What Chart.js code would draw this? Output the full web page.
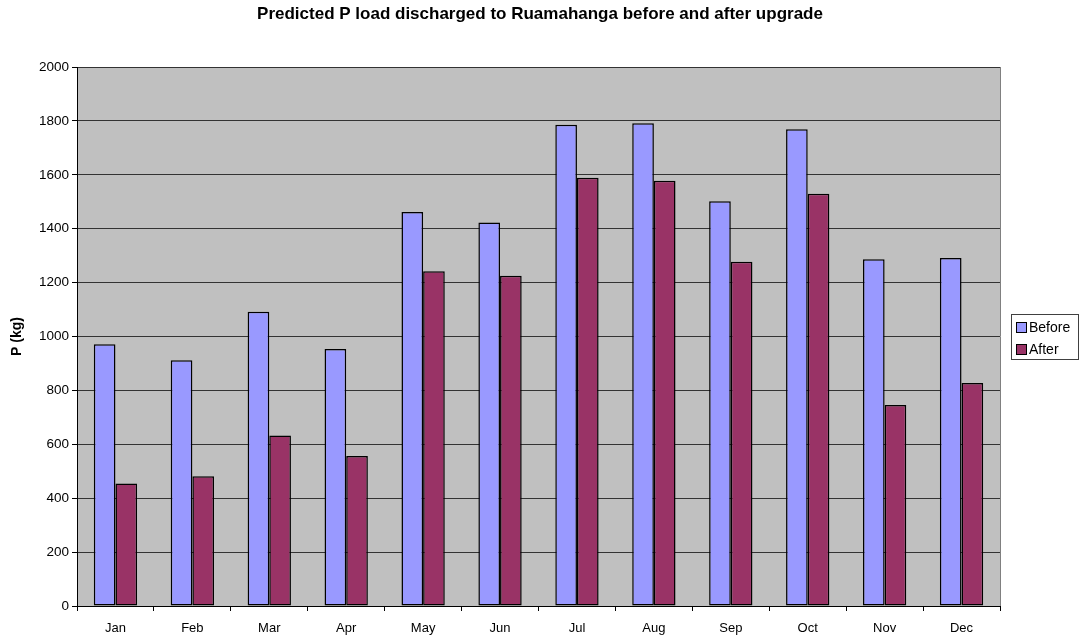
<!DOCTYPE html>
<html>
<head>
<meta charset="utf-8">
<script src="https://cdn.jsdelivr.net/npm/chart.js"></script>
<style>
  html, body { margin: 0; padding: 0; background: #fff; }
  #wrap { width: 1080px; height: 639px; }
</style>
</head>
<body>
<div id="wrap"><canvas id="pChart" width="1080" height="639"></canvas></div>
<script>
// Monthly P load (kg)
const months = ['Jan', 'Feb', 'Mar', 'Apr', 'May', 'Jun', 'Jul', 'Aug', 'Sep', 'Oct', 'Nov', 'Dec'];
const beforeLoad = [971, 912, 1092, 954, 1462, 1423, 1786, 1791, 1502, 1769, 1287, 1291];
const afterLoad = [455, 481, 633, 557, 1242, 1225, 1589, 1578, 1277, 1530, 746, 827];
const yTicks = [0, 200, 400, 600, 800, 1000, 1200, 1400, 1600, 1800, 2000];

const FONT = 'Arial, "Liberation Sans", sans-serif';

// gray plot background like the spreadsheet chart
const plotBg = {
    id: 'plotBg',
    beforeDraw(chart) {
        const a = chart.chartArea, ctx = chart.ctx;
        ctx.save();
        ctx.fillStyle = '#c0c0c0';
        ctx.fillRect(a.left, a.top, a.right - a.left, a.bottom - a.top);
        ctx.strokeStyle = '#808080';
        ctx.lineWidth = 1;
        ctx.beginPath();
        ctx.moveTo(a.right + 0.5, a.top);
        ctx.lineTo(a.right + 0.5, a.bottom);
        ctx.stroke();
        ctx.restore();
    }
};

// boxed legend on the right
const sideLegend = {
    id: 'sideLegend',
    afterDraw(chart) {
        const ctx = chart.ctx;
        const x = 1011, y = 314, w = 68, h = 45;
        ctx.save();
        ctx.fillStyle = '#fff';
        ctx.fillRect(x, y, w, h);
        ctx.strokeStyle = '#404040';
        ctx.lineWidth = 1;
        ctx.strokeRect(x + 0.5, y + 0.5, w - 1, h);
        ctx.font = '14px ' + FONT;
        ctx.textBaseline = 'middle';
        chart.data.datasets.forEach((ds, i) => {
            const cy = y + 13 + i * 22;
            ctx.fillStyle = ds.backgroundColor;
            ctx.fillRect(x + 5, cy - 5, 10, 10);
            ctx.strokeStyle = '#000';
            ctx.strokeRect(x + 5.5, cy - 4.5, 10, 10);
            ctx.fillStyle = '#000';
            ctx.fillText(ds.label, x + 18, cy + 1);
        });
        ctx.restore();
    }
};

new Chart(document.getElementById('pChart').getContext('2d'), {
    type: 'bar',
    data: {
        labels: months,
        datasets: [
            {
                label: 'Before',
                data: beforeLoad,
                backgroundColor: '#9999ff',
                borderColor: '#000',
                borderWidth: 1.5,
                borderSkipped: false
            },
            {
                label: 'After',
                data: afterLoad,
                backgroundColor: '#993366',
                borderColor: '#000',
                borderWidth: 1.5,
                borderSkipped: false
            }
        ]
    },
    options: {
        responsive: false,
        animation: false,
        layout: { padding: { left: 0, right: 0, top: 0, bottom: 0 } },
        datasets: { bar: { categoryPercentage: 0.563, barPercentage: 1.0 } },
        plugins: {
            legend: { display: false },
            tooltip: { enabled: false },
            title: {
                display: true,
                text: 'Predicted P load discharged to Ruamahanga before and after upgrade',
                color: '#000',
                font: { family: FONT, size: 17, weight: 'bold' },
                padding: { top: 4, bottom: 42.6 }
            }
        },
        scales: {
            x: {
                offset: true,
                afterFit(scale) { scale.height = 33; },
                grid: { display: true, drawOnChartArea: false, drawTicks: true, tickLength: 5, color: '#000', offset: true },
                border: { display: true, color: '#000' },
                ticks: {
                    color: '#000',
                    padding: 10,
                    maxRotation: 0,
                    font: { family: FONT, size: 13 }
                }
            },
            y: {
                min: 0,
                max: 2000,
                afterFit(scale) { scale.width = 77; },
                afterBuildTicks(scale) { scale.ticks = yTicks.map(v => ({ value: v })); },
                grid: { color: '#333', drawTicks: true, tickLength: 5, tickColor: '#000' },
                border: { display: true, color: '#000' },
                ticks: {
                    color: '#000',
                    padding: 3,
                    font: { family: FONT, size: 13.5 },
                    callback: v => String(v)
                },
                title: {
                    display: true,
                    text: 'P (kg)',
                    color: '#000',
                    padding: { top: 9, bottom: 0 },
                    font: { family: FONT, size: 14, weight: 'bold' }
                }
            },
            // empty right-hand strip that leaves room for the legend
            side: {
                type: 'linear',
                position: 'right',
                display: true,
                afterFit(scale) { scale.width = 80; },
                grid: { display: false },
                border: { display: false },
                ticks: { display: false }
            }
        }
    },
    plugins: [plotBg, sideLegend]
});
</script>
</body>
</html>
